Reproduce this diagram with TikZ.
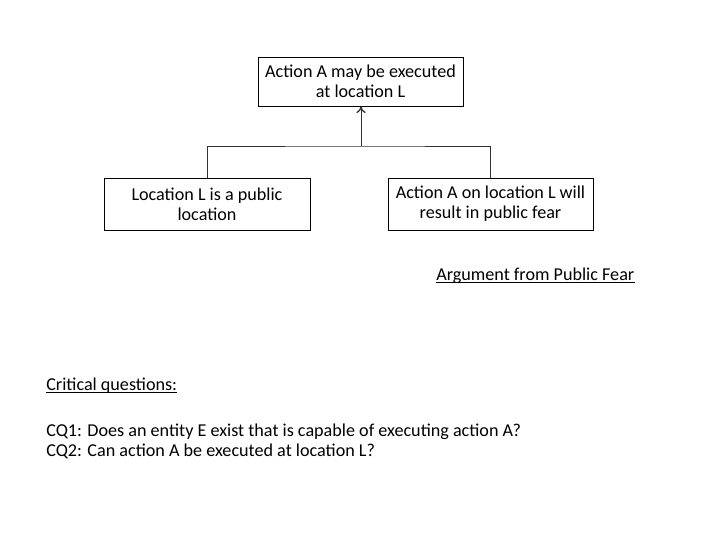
\documentclass[tikz,border=0pt]{standalone}
\usepackage{fontspec}
\setmainfont{Carlito}
\usetikzlibrary{arrows.meta}
\begin{document}
\begin{tikzpicture}[x=0.75pt,y=-0.75pt,
  claim/.style={draw=black,line width=0.6pt,fill=white,align=center,inner sep=0pt,font=\fontsize{13.6}{15}\selectfont},
  link/.style={draw=black!80,line width=0.6pt},
  txt/.style={anchor=base west,inner sep=0pt,font=\fontsize{13.6}{15}\selectfont},
  uline/.style={draw=black,line width=0.5pt}]
\useasboundingbox (0,0) rectangle (720,540);
\node[claim,minimum width=205*0.75pt,minimum height=49*0.75pt] (top) at (360.5,81.5) {Action A may be executed\\at location L};
\node[claim,minimum width=206*0.75pt,minimum height=52*0.75pt] (left) at (207,204) {Location L is a public\\location};
\node[claim,minimum width=205*0.75pt,minimum height=52*0.75pt] (right) at (490.5,204) {Action A on location L will\\result in public fear};
\coordinate (j) at (361,146);
\draw[link] (left.north) |- (j) -| (right.north);
\draw[link,-{To[length=5pt,width=7pt,line width=1pt]}] (j) -- (top.south -| j);
\node[txt] (title) at (436,280) {Argument from Public Fear};
\draw[uline] ([yshift=-1.5pt]title.base west) -- ([yshift=-1.5pt]title.base east);
\node[txt] (cq) at (46,390) {Critical questions:};
\draw[uline] ([yshift=-1.5pt]cq.base west) -- ([yshift=-1.5pt]cq.base east);
\node[txt] (cq1) at (46,436) {CQ1: Does an entity E exist that is capable of executing action A?};
\node[txt] (cq2) at (46,456) {CQ2: Can action A be executed at location L?};
\end{tikzpicture}
\end{document}
